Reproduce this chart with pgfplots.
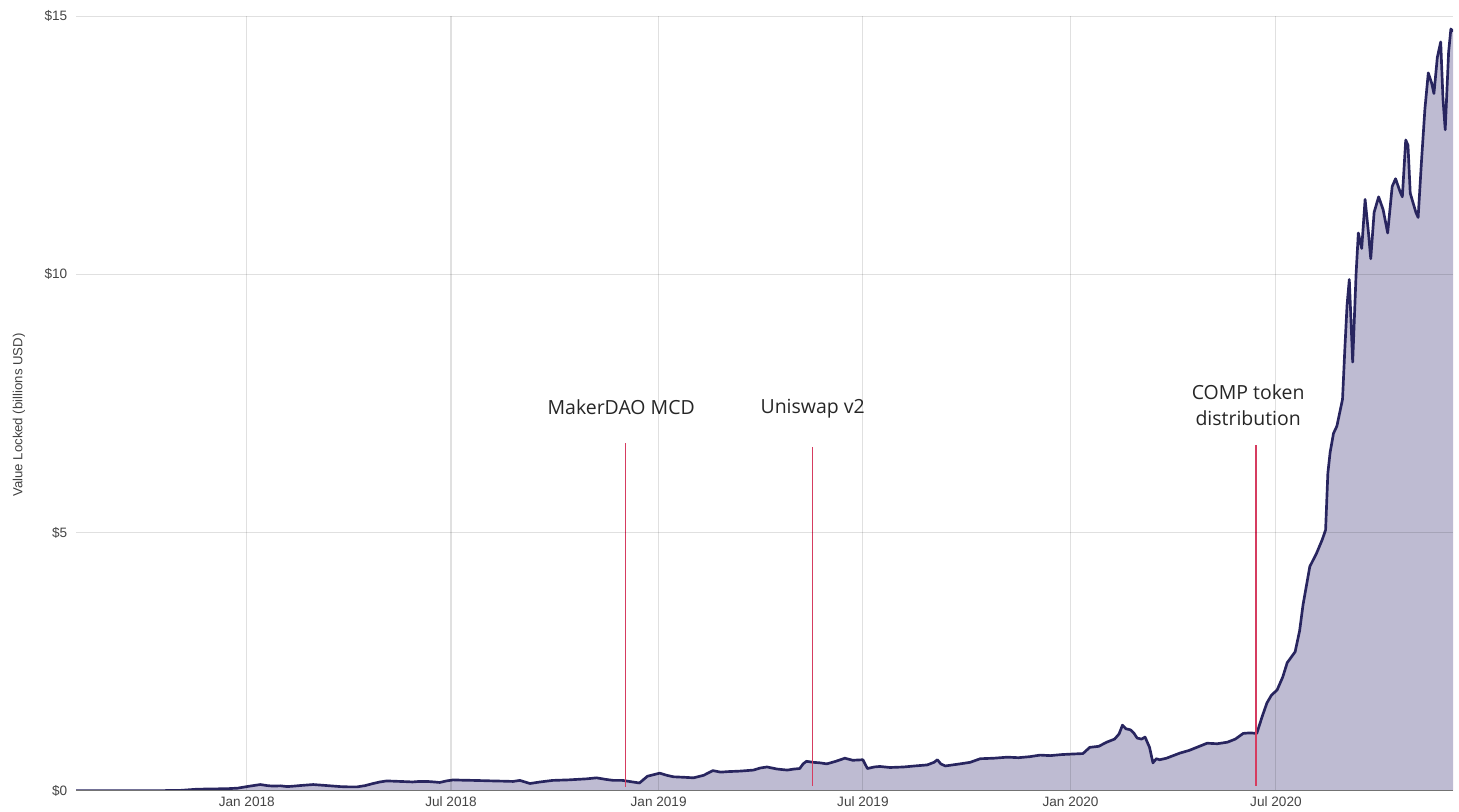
\documentclass[border=0pt]{standalone}
\usepackage{pgfplots}
\pgfplotsset{compat=1.18}
\usepackage{pgfplotstable}
\usepackage{fontspec}
\setmainfont{Liberation Sans}
\newfontfamily\annot{Open Sans}

\definecolor{tvlfill}{RGB}{190,187,210}
\definecolor{tvlline}{RGB}{40,37,95}
\definecolor{eventred}{RGB}{214,60,96}
\definecolor{ticktext}{RGB}{68,68,68}

% day 0 = 1 Jan 2018, value in billions USD
\pgfplotstableread{
d v
-151.3 0.00
-90 0.00
-60 0.005
-44 0.03
-30 0.035
-17 0.04
-8 0.05
0 0.08
6 0.10
12 0.12
18 0.10
23 0.09
30 0.095
36 0.08
42 0.09
47 0.10
53 0.11
59 0.12
65 0.11
71 0.10
77 0.09
83 0.08
90 0.075
98 0.075
105 0.10
112 0.14
118 0.17
124 0.19
130 0.185
136 0.18
142 0.175
147 0.17
153 0.18
160 0.18
166 0.17
171 0.16
177 0.19
183 0.21
190 0.205
201 0.20
210 0.195
218 0.19
228 0.185
236 0.18
242 0.20
248 0.16
251 0.14
260 0.17
271 0.20
285 0.21
301 0.23
310 0.25
318 0.22
325 0.20
333 0.20
342 0.17
348 0.15
355 0.28
366 0.34
372 0.30
378 0.27
388 0.26
396 0.25
405 0.30
413 0.39
420 0.36
426 0.37
437 0.38
449 0.40
455 0.44
461 0.46
470 0.42
479 0.40
485 0.42
490 0.43
493 0.52
496 0.57
502 0.55
508 0.54
514 0.52
522 0.57
530 0.63
537 0.59
546 0.60
550 0.43
556 0.46
561 0.47
570 0.45
582 0.46
592 0.48
603 0.50
609 0.55
612 0.60
615 0.52
619 0.48
632 0.52
641 0.55
650 0.62
662 0.63
674 0.65
684 0.64
694 0.66
703 0.69
712 0.68
722 0.70
731 0.71
741 0.72
747 0.84
755 0.86
762 0.94
769 1.00
773 1.10
776 1.27
779 1.20
783 1.18
786 1.12
789 1.02
793 1.00
796 1.04
800 0.84
803 0.54
806 0.62
809 0.60
815 0.63
821 0.68
827 0.73
835 0.78
843 0.85
851 0.92
860 0.91
869 0.94
876 1.00
883 1.11
889 1.12
895 1.11
900 1.45
904 1.70
908 1.85
913 1.95
918 2.20
922 2.48
926 2.60
929 2.69
933 3.10
936 3.60
942 4.34
948 4.60
953 4.86
956 5.05
958 6.15
960 6.55
963 6.92
966 7.06
971 7.58
973 8.53
975 9.40
977 9.90
980 8.30
983 10.0
985 10.8
988 10.5
991 11.45
994 10.8
996 10.3
999 11.2
1003 11.5
1007 11.25
1011 10.8
1015 11.7
1018 11.85
1022 11.6
1024 11.5
1027 12.6
1029 12.5
1031 11.57
1036 11.2
1038 11.1
1041 12.2
1044 13.2
1047 13.9
1050 13.7
1052 13.5
1055 14.2
1058 14.5
1060 13.4
1062 12.8
1065 14.3
1067 14.75
1068.9 14.7
}\tvl

\begin{document}
\begin{tikzpicture}
\begin{axis}[
  scale only axis,
  width=1032.75pt, height=581pt,
  xmin=-151.3, xmax=1068.9,
  ymin=0, ymax=15,
  axis on top,
  axis x line*=bottom,
  axis y line*=left,
  y axis line style={draw=none},
  x axis line style={draw=black!55, line width=0.9pt},
  major tick length=0pt,
  xtick={0,181,365,546,730,912},
  xticklabels={Jan 2018,Jul 2018,Jan 2019,Jul 2019,Jan 2020,Jul 2020},
  ytick={0,5,10,15},
  yticklabels={\$0,\$5,\$10,\$15},
  xmajorgrids=true, ymajorgrids=true,
  grid style={black, opacity=0.12, line width=0.8pt},
  tick label style={font=\fontsize{10.2}{12}\selectfont, text=ticktext},
  yticklabel style={xshift=-3pt},
  xticklabel style={yshift=-1pt},
  ylabel={Value Locked (billions USD)},
  ylabel style={font=\fontsize{9.9}{11}\selectfont, text=black!75,
    at={(axis description cs:-0.0414,0.485)}, anchor=center},
]

\addplot[draw=none, fill=tvlfill] table[x=d, y=v] {\tvl} \closedcycle;
\addplot[tvlline, line width=2pt, line join=round] table[x=d, y=v] {\tvl};

% event markers
\addplot[eventred, line width=1.1pt] coordinates {(335.4,0.08) (335.4,6.73)};
\addplot[eventred, line width=1.1pt] coordinates {(501.1,0.1) (501.1,6.65)};
\addplot[eventred, line width=1.1pt] coordinates {(894.3,0.1) (894.3,6.69)};

\node[font=\annot\fontsize{14.6}{19.5}\selectfont, text=black!85] at (axis cs:331.8,7.43) {MakerDAO MCD};
\node[font=\annot\fontsize{14.6}{19.5}\selectfont, text=black!85] at (axis cs:501.5,7.39) {Uniswap v2};
\node[font=\annot\fontsize{14.6}{19.5}\selectfont, text=black!85, align=center] at (axis cs:887.4,7.47) {COMP token\\distribution};

\end{axis}
\pgfresetboundingbox
\path (current axis.south west) ++(-57pt,-15.2pt) rectangle ++(1094.25pt,608.25pt);
\end{tikzpicture}
\end{document}
